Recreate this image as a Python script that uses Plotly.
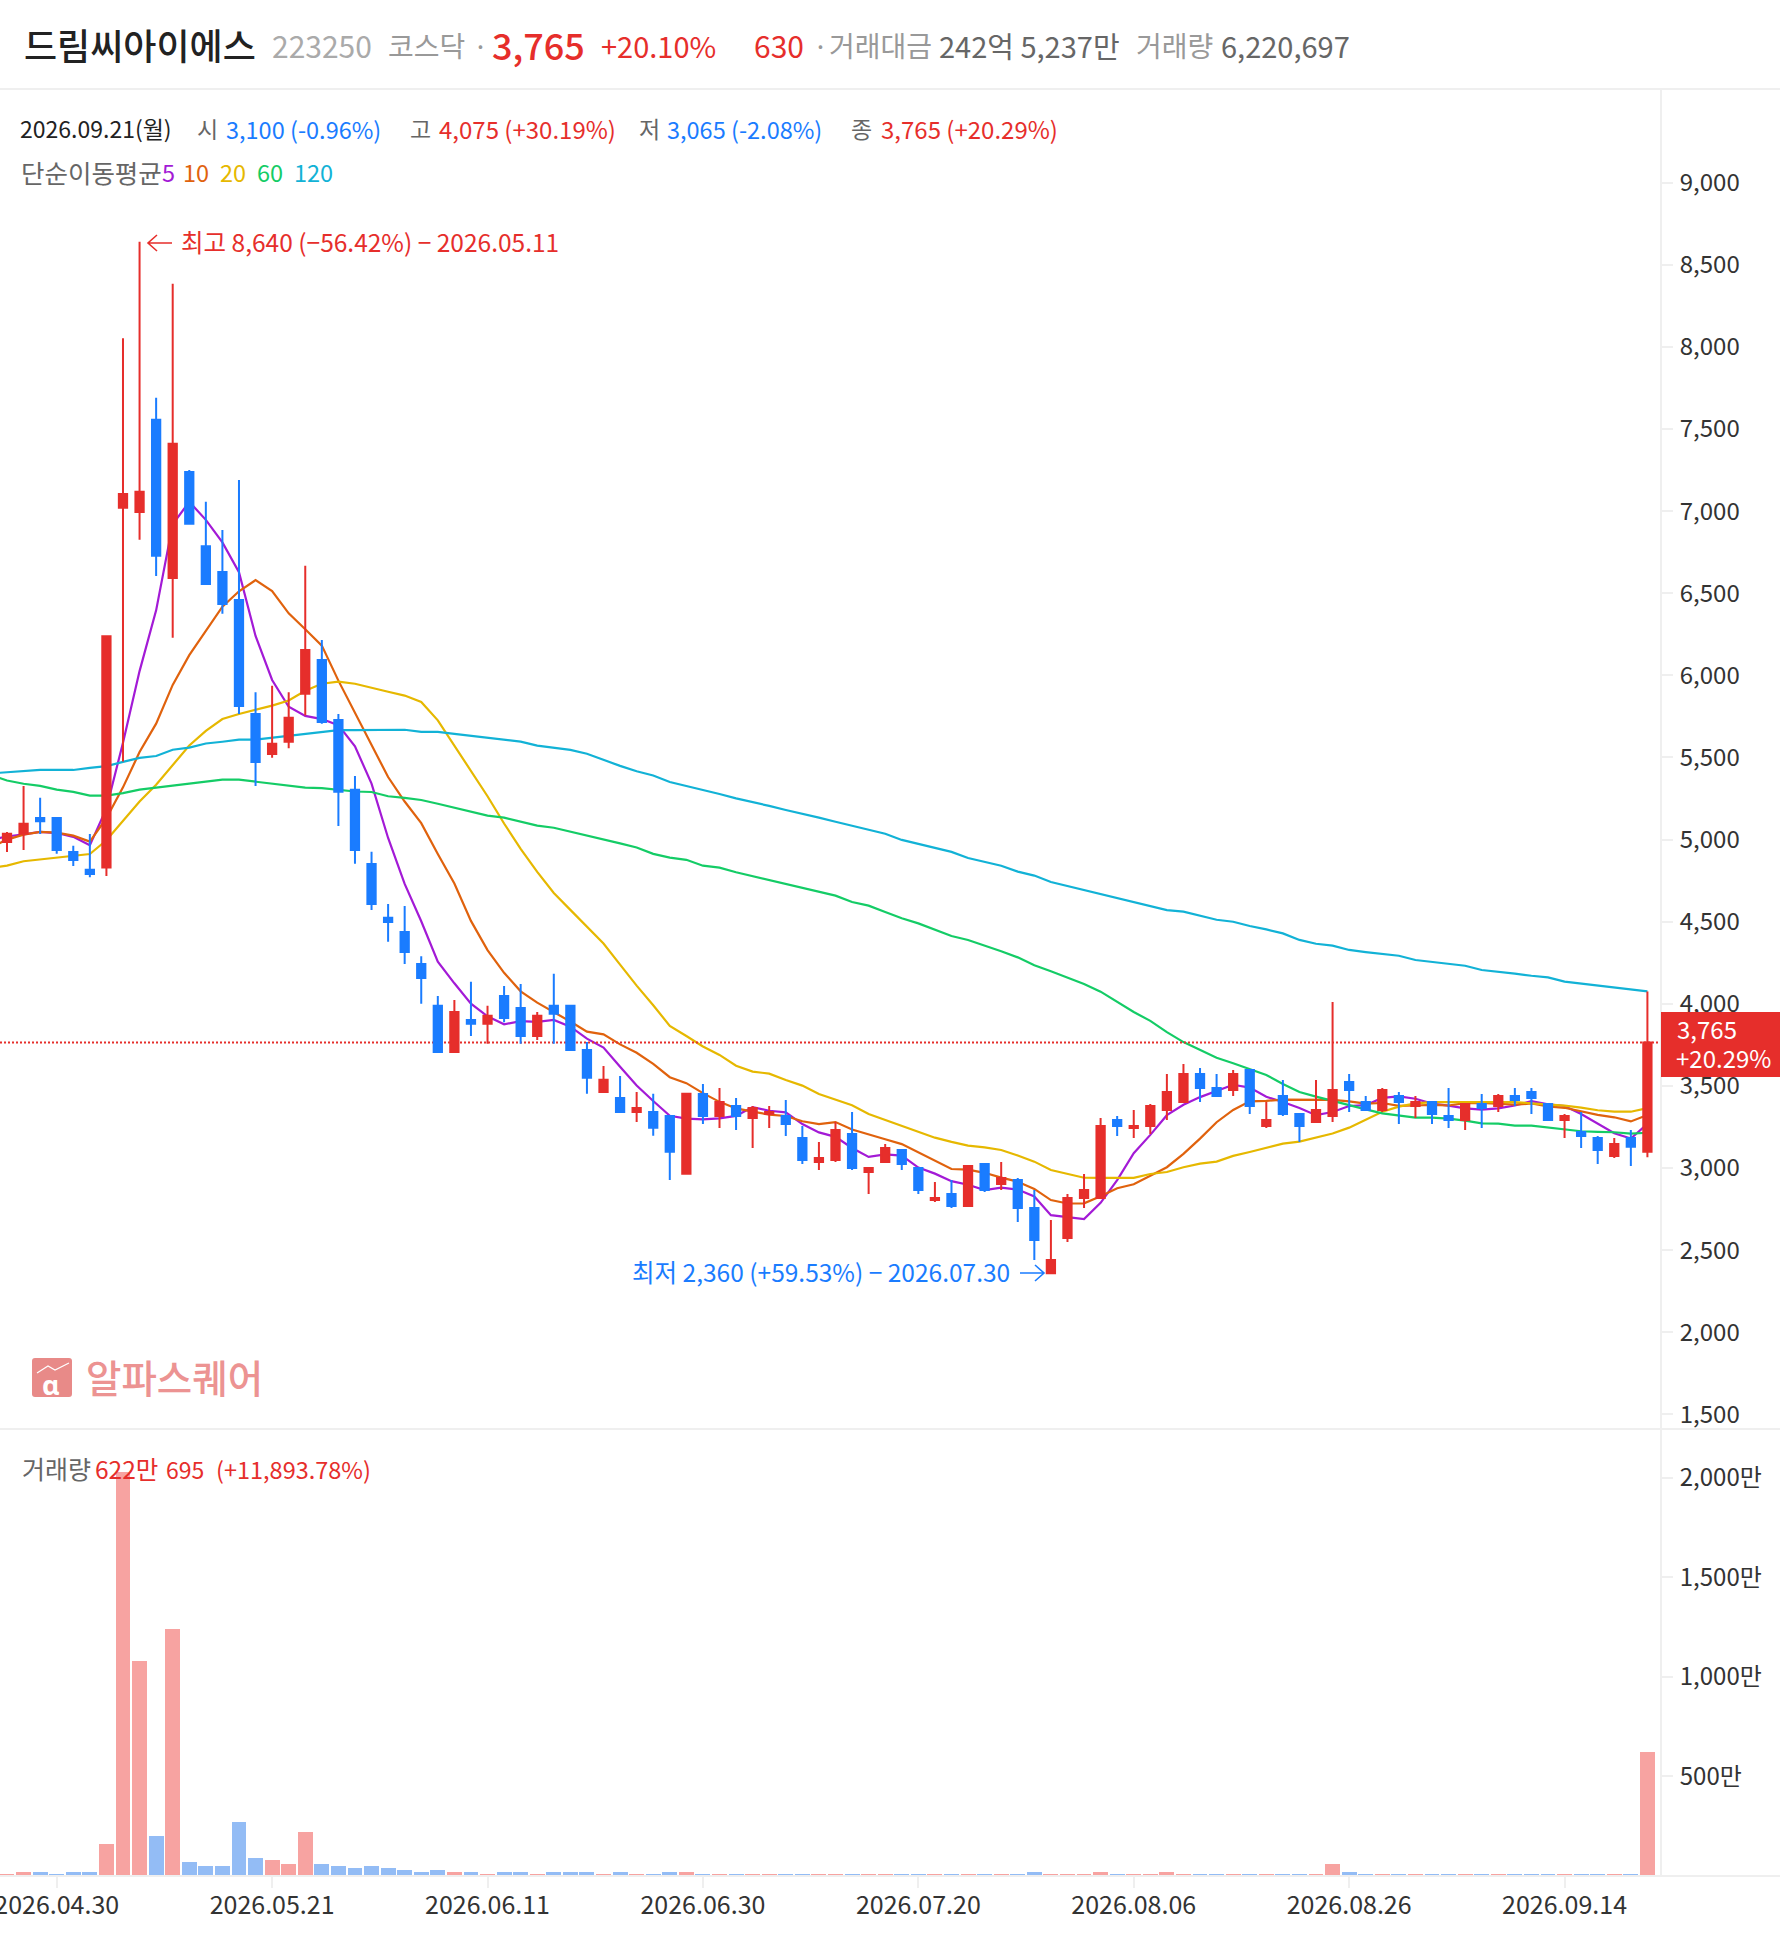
import plotly.graph_objects as go

W, H = 1780, 1934
FONT = "Noto Sans CJK KR"
RED = "#E62E2B"
BLUE = "#1A7CFF"
LINE = "#EFEFEF"

opens = [4985,5035,5132,5132,4924,4817,4830,7020,6995,7556,
6593,7238,6787,6629,6459,5765,5521,5596,5888,6093,
5729,5304,4852,4524,4437,4242,3988,3706,3901,3878,
4047,3975,3804,3988,3988,3719,3463,3427,3342,3342,
3317,2966,3451,3317,3378,3305,3329,3317,3183,3037,
3049,3208,2976,3037,3110,3000,2806,2842,2769,3025,
2903,2927,2757,2360,2574,2818,2818,3293,3244,3256,
3354,3402,3573,3488,3475,3597,3256,3439,3329,3280,
3317,3524,3402,3354,3439,3378,3402,3317,3293,3390,
3378,3439,3463,3390,3293,3220,3183,3073,3183,3100]
closes = [5035,5096,5111,4937,4876,4791,6239,7105,7118,6728,
7410,6923,6557,6434,5814,5473,5583,5742,6154,5716,
5291,4937,4608,4498,4316,4157,3706,3950,3878,3927,
3914,3804,3927,3939,3719,3550,3537,3342,3365,3245,
3099,3453,3317,3402,3317,3366,3341,3268,3049,3061,
3232,3000,3000,3122,3025,2866,2818,2769,3013,2866,
2939,2757,2562,2440,2818,2866,3256,3256,3256,3378,
3463,3573,3488,3439,3573,3378,3293,3329,3256,3354,
3475,3475,3354,3475,3402,3402,3329,3293,3390,3366,
3439,3415,3427,3293,3317,3195,3110,3147,3130,3765]
highs = [5047,5327,5255,5132,4963,5034,6239,8053,8640,7690,
8384,7251,7057,6885,7190,5898,5937,5898,6667,6216,
5765,5388,4926,4608,4595,4290,4047,4024,4134,3988,
4109,4121,3950,4183,3988,3768,3622,3560,3463,3452,
3317,3453,3512,3488,3427,3378,3378,3414,3256,3159,
3281,3341,3000,3147,3110,3000,2915,2927,3013,3025,
3037,2940,2866,2684,2842,2964,3305,3317,3354,3390,
3573,3634,3609,3573,3597,3597,3402,3536,3329,3536,
4011,3573,3439,3488,3463,3439,3402,3488,3390,3451,
3451,3488,3488,3390,3329,3341,3195,3183,3232,4075]
lows = [4925,4937,5034,4914,4840,4770,4778,5475,6826,6605,
6229,6923,6557,6375,5765,5327,5498,5557,5755,5706,
5083,4853,4572,4378,4242,4000,3706,3706,3804,3757,
3888,3757,3780,3757,3719,3452,3463,3342,3281,3196,
2927,2966,3268,3244,3232,3122,3244,3195,3025,2988,
3037,2988,2842,3037,2988,2842,2794,2757,2769,2854,
2866,2672,2440,2360,2550,2757,2818,3195,3183,3208,
3293,3402,3402,3439,3439,3329,3244,3317,3159,3280,
3280,3341,3354,3341,3268,3305,3268,3244,3232,3244,
3341,3378,3329,3293,3183,3122,3025,3061,3013,3065]
volumes = [10,21,21,12,21,21,162,2030,1081,200,
1241,71,52,52,272,91,81,62,222,62,
52,40,52,40,31,21,31,21,21,12,
21,21,12,21,21,21,12,21,12,12,
21,21,12,12,12,12,12,12,12,12,
12,12,12,12,12,12,12,12,12,12,
12,12,21,12,12,12,21,12,12,12,
21,12,12,12,12,12,12,12,12,12,
62,21,12,12,12,12,12,12,12,12,
12,12,12,12,12,12,12,12,12,622]
# moving averages start one session earlier (their first point lies just past the left edge)
ma5 = [5000,5019,5032,5047,5040,5017,4965,5190,5590,6026,6396,
6920,7057,6947,6810,6628,6240,5972,5809,5753,5734,
5697,5568,5341,5010,4730,4503,4257,4125,4001,3924,
3875,3895,3890,3902,3861,3788,3734,3617,3503,3408,
3318,3301,3296,3303,3318,3371,3349,3339,3268,3217,
3190,3122,3068,3083,3076,3003,2966,2920,2898,2866,
2881,2869,2827,2713,2703,2689,2788,2927,3090,3202,
3322,3385,3432,3468,3507,3490,3434,3402,3366,3322,
3341,3378,3383,3427,3436,3422,3392,3380,3363,3356,
3363,3381,3407,3388,3378,3329,3268,3212,3180,3269]
ma10 = [4950,5000,5030,5047,5042,5024,4988,5130,5318,5533,5706,
5942,6123,6268,6418,6512,6580,6514,6378,6281,6181,
5968,5770,5575,5381,5232,5100,4912,4733,4505,4327,
4189,4076,4007,3951,3892,3831,3814,3753,3702,3634,
3553,3517,3456,3403,3363,3344,3325,3317,3285,3267,
3280,3235,3203,3175,3146,3096,3044,2994,2990,2971,
2942,2917,2873,2805,2784,2785,2828,2877,2901,2952,
3005,3086,3179,3279,3354,3406,3409,3417,3417,3414,
3415,3406,3392,3396,3379,3381,3385,3381,3395,3396,
3392,3386,3393,3375,3367,3346,3324,3309,3284,3323]
ma20 = [4825,4842,4868,4878,4888,4899,4912,4996,5111,5232,5334,
5457,5573,5662,5734,5765,5791,5816,5847,5906,5949,
5962,5949,5923,5900,5877,5838,5726,5572,5418,5264,
5098,4944,4803,4675,4572,4470,4367,4239,4111,3991,
3866,3804,3740,3689,3623,3587,3575,3536,3502,3451,
3418,3382,3329,3293,3256,3222,3185,3159,3137,3126,
3110,3076,3039,2988,2966,2941,2940,2940,2940,2964,
2976,3005,3027,3039,3074,3098,3122,3149,3161,3185,
3210,3246,3295,3343,3374,3394,3402,3402,3402,3402,
3402,3402,3394,3388,3380,3368,3352,3343,3343,3365]
ma60 = [5395,5360,5340,5327,5304,5291,5268,5268,5283,5304,5316,
5329,5340,5355,5365,5365,5352,5340,5327,5316,5313,
5303,5293,5290,5264,5254,5241,5218,5193,5172,5146,
5134,5110,5085,5072,5049,5023,5000,4977,4952,4913,
4890,4877,4841,4829,4801,4778,4752,4730,4709,4685,
4659,4620,4598,4559,4521,4490,4450,4413,4389,4356,
4320,4283,4235,4198,4159,4121,4074,4011,3950,3896,
3828,3767,3719,3672,3638,3603,3567,3512,3463,3435,
3408,3380,3357,3333,3321,3307,3307,3301,3289,3272,
3270,3258,3258,3246,3234,3224,3220,3218,3210,3215]
ma120 = [5403,5410,5414,5424,5424,5424,5437,5447,5473,5498,5509,
5547,5560,5585,5596,5609,5609,5621,5632,5644,5657,
5667,5667,5669,5669,5669,5656,5656,5644,5633,5621,
5608,5597,5572,5559,5546,5523,5485,5449,5416,5390,
5351,5328,5302,5278,5251,5229,5205,5180,5158,5134,
5109,5085,5063,5036,4998,4973,4949,4925,4888,4866,
4841,4805,4781,4742,4718,4693,4671,4645,4620,4598,
4571,4561,4537,4512,4500,4474,4453,4429,4389,4366,
4354,4328,4315,4305,4293,4267,4255,4244,4232,4206,
4196,4184,4171,4161,4135,4123,4112,4100,4088,4076]

tick_index = [3, 16, 29, 42, 55, 68, 81, 94]
tick_dates = ["2026.04.30","2026.05.21","2026.06.11","2026.06.30","2026.07.20","2026.08.06","2026.08.26","2026.09.14"]
price_ticks = [1500,2000,2500,3000,3500,4000,4500,5000,5500,6000,6500,7000,7500,8000,8500,9000]
vol_ticks = [500,1000,1500,2000]
vol_tick_labels = ["500만","1,000만","1,500만","2,000만"]
last_price = 3765
ma_names = ["5","10","20","60","120"]
ma_colors = ["#A31AD6","#E0620D","#E6B800","#14CC66","#12B2D6"]

xs = list(range(len(closes)))
ma_xs = list(range(-1, len(closes)))
x_range = [-0.4225, 99.76]

fig = go.Figure()
for name, vals, col in zip(ma_names, [ma5, ma10, ma20, ma60, ma120], ma_colors):
    fig.add_trace(go.Scatter(x=ma_xs, y=vals, mode="lines", name=name, line=dict(color=col, width=2.2), xaxis="x", yaxis="y"))
fig.add_trace(go.Scatter(x=x_range, y=[last_price, last_price], mode="lines",
                         line=dict(color=RED, width=2, dash="2px,2px"), xaxis="x", yaxis="y"))
fig.add_trace(go.Candlestick(x=xs, open=opens, high=highs, low=lows, close=closes, xaxis="x", yaxis="y3",
                             whiskerwidth=0,
                             increasing=dict(line=dict(color=RED, width=2), fillcolor=RED),
                             decreasing=dict(line=dict(color=BLUE, width=2), fillcolor=BLUE)))
vol_colors = ["#F7A3A1" if c >= o else "#93BCF5" for o, c in zip(opens, closes)]
fig.add_trace(go.Bar(x=xs, y=volumes, marker=dict(color=vol_colors, line=dict(width=0)), width=0.9, xaxis="x2", yaxis="y2"))


def px(x):
    return x / W


def py(y):
    return 1 - y / H


annotations = []


def txt(x, y, s, color="#333333", size=24, anchor="left", family=FONT, weight=None):
    f = dict(family=family, size=size, color=color)
    if weight:
        f["weight"] = weight
    annotations.append(dict(x=px(x), y=py(y), xref="paper", yref="paper", text=s, showarrow=False,
                            xanchor=anchor, yanchor="middle", font=f, borderpad=0))


# header
txt(23, 44, "드림씨아이에스", "#222222", 36, weight=500)
txt(271, 45, "223250", "#AAAAAA", 30)
txt(387, 45, "코스닥", "#999999", 28)
txt(472, 45, "·", "#999999", 27)
txt(491, 44, "3,765", RED, 36, weight=500)
txt(600, 45, "+20.10%", RED, 29)
txt(753, 45, "630", RED, 30)
txt(812, 45, "·", "#999999", 27)
txt(828, 45, "거래대금", "#999999", 28)
txt(938, 45, "242억 5,237만", "#666666", 29)
txt(1135, 45, "거래량", "#999999", 28)
txt(1220, 45, "6,220,697", "#666666", 29)

# info rows
txt(19, 128, "2026.09.21(월)", "#222222", 23)
txt(196, 128, "시", "#666666", 23)
txt(225, 129, "3,100 (-0.96%)", BLUE, 23.5)
txt(409, 128, "고", "#666666", 23)
txt(438, 129, "4,075 (+30.19%)", RED, 24)
txt(638, 128, "저", "#666666", 23)
txt(666, 129, "3,065 (-2.08%)", BLUE, 23.5)
txt(850, 128, "종", "#666666", 23)
txt(880, 129, "3,765 (+20.29%)", RED, 24)
txt(20, 171, "단순이동평균", "#666666", 25.5)
for xp, nm, col in zip([161, 182, 219, 256, 293], ma_names, ma_colors):
    txt(xp, 172, nm, col, 23.5)

# hi / lo notes
txt(180, 242, "최고 8,640 (−56.42%) − 2026.05.11", RED, 24.5)
txt(631, 1271, "최저 2,360 (+59.53%) − 2026.07.30", BLUE, 24.5)

# watermark
txt(85, 1376, "알파스퀘어", "#EC9392", 38.5, weight=500)
txt(51, 1384, "α", "#FFFFFF", 27, anchor="center", family="Noto Sans", weight=700)

# volume row
txt(21, 1468, "거래량", "#666666", 25)
txt(94, 1468, "622만", RED, 24.5)
txt(165, 1469, "695", RED, 23)
txt(215, 1469, "(+11,893.78%)", RED, 23.5)

# badge
txt(1676, 1028, "3,765", "#FFFFFF", 24)
txt(1675, 1057, "+20.29%", "#FFFFFF", 24)

shapes = []


def seg(path, color, width, fill=None):
    d = dict(type="path", xref="paper", yref="paper", path=path, line=dict(color=color, width=width), layer="above")
    if fill:
        d["fillcolor"] = fill
    shapes.append(d)


def P(x, y):
    return f"{px(x):.5f},{py(y):.5f}"


seg(f"M{P(0,89)} L{P(W,89)}", LINE, 2)
seg(f"M{P(0,1429)} L{P(W,1429)}", LINE, 2)
seg(f"M{P(0,1876)} L{P(W,1876)}", LINE, 2)
seg(f"M{P(172,243)} L{P(148,243)} M{P(157,235)} L{P(148,243)} L{P(157,251)}", RED, 1.6)
seg(f"M{P(1020,1273)} L{P(1044,1273)} M{P(1035,1265)} L{P(1044,1273)} L{P(1035,1281)}", BLUE, 1.6)
seg(f"M{P(1661,1012)} L{P(1780,1012)} L{P(1780,1077)} L{P(1661,1077)} Z", RED, 0, RED)
seg(f"M{P(35,1358)} L{P(69,1358)} Q{P(72,1358)} {P(72,1361)} L{P(72,1394)} Q{P(72,1397)} {P(69,1397)} "
    f"L{P(35,1397)} Q{P(32,1397)} {P(32,1394)} L{P(32,1361)} Q{P(32,1358)} {P(35,1358)} Z", "#E88A88", 0, "#E88A88")
seg(f"M{P(37,1373)} L{P(48,1366)} L{P(55,1370)} L{P(69,1363)}", "#FFFFFF", 1.2)

pr = [1411, 9564.5]
axis_font = dict(family=FONT, size=24, color="#333333")
date_font = dict(family=FONT, size=25, color="#333333")
fig.update_layout(
    width=W, height=H, margin=dict(l=0, r=0, t=0, b=0, pad=0),
    paper_bgcolor="white", plot_bgcolor="white", showlegend=False,
    boxgap=0.5, boxgroupgap=0, bargap=0,
    xaxis=dict(domain=[0, px(1660)], range=x_range, anchor="y", showticklabels=False, ticks="", showgrid=False,
               zeroline=False, rangeslider=dict(visible=False), showline=False, automargin=False),
    xaxis2=dict(domain=[0, px(1660)], range=x_range, anchor="y2", tickmode="array", tickvals=tick_index,
                ticktext=tick_dates, ticks="outside", ticklen=11, tickwidth=2, tickcolor=LINE, tickfont=date_font,
                showgrid=False, zeroline=False, showline=False, ticklabelstandoff=-4, ticklabeloverflow="allow",
                automargin=False),
    yaxis=dict(domain=[py(1429), py(90)], range=pr, side="right", anchor="x", tickmode="array", tickvals=price_ticks,
               tickformat=",", ticks="outside", ticklen=11, tickwidth=2, tickcolor=LINE, tickfont=axis_font,
               showgrid=False, zeroline=False, showline=True, linecolor=LINE, linewidth=2, ticklabelstandoff=2,
               automargin=False),
    yaxis3=dict(range=pr, overlaying="y", side="right", anchor="x", visible=False, automargin=False),
    yaxis2=dict(domain=[py(1876), py(1430)], range=[0, 2239], side="right", anchor="x2", tickmode="array",
                tickvals=vol_ticks, ticktext=vol_tick_labels, ticks="outside", ticklen=11, tickwidth=2,
                tickcolor=LINE, tickfont=axis_font, showgrid=False, zeroline=False, showline=True, linecolor=LINE,
                linewidth=2, ticklabelstandoff=2, automargin=False),
    annotations=annotations, shapes=shapes,
)
fig.write_html("out.html", config=dict(displayModeBar=False),
               post_script="document.body.style.margin='0';document.documentElement.style.overflow='hidden';")
